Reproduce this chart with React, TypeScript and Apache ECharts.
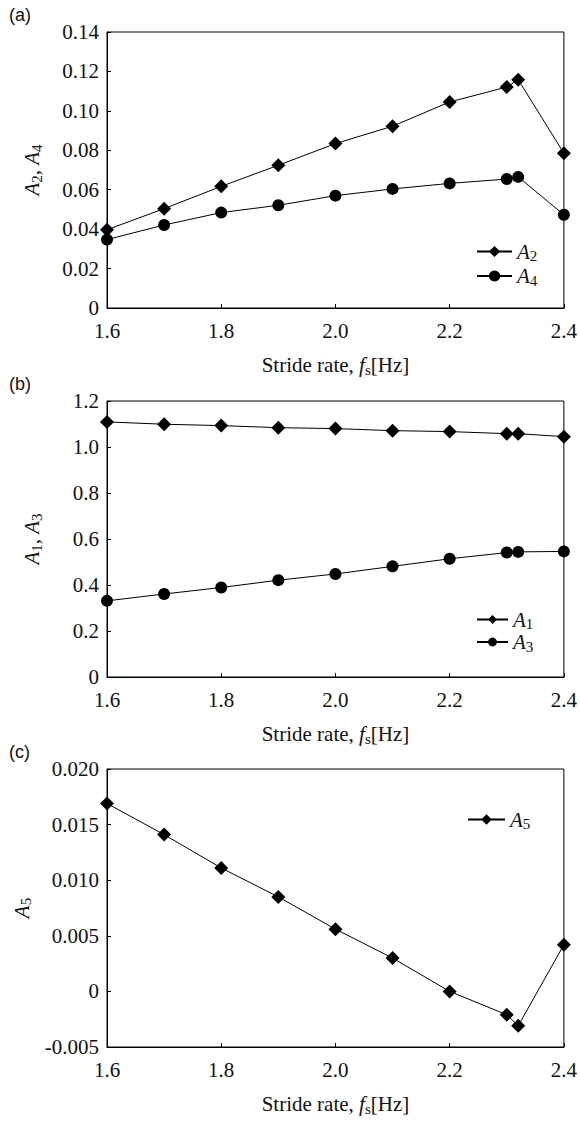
import React, { useEffect, useRef } from "react";
import * as echarts from "echarts";

const strideRates = [1.6, 1.7, 1.8, 1.9, 2.0, 2.1, 2.2, 2.3, 2.32, 2.4];
const a2Values = [0.0397, 0.0504, 0.0617, 0.0724, 0.0834, 0.0922, 0.1045, 0.1121, 0.1158, 0.0785];
const a4Values = [0.0347, 0.0421, 0.0484, 0.0521, 0.057, 0.0604, 0.0632, 0.0654, 0.0665, 0.0473];
const a1Values = [1.109, 1.099, 1.093, 1.084, 1.08, 1.071, 1.067, 1.058, 1.058, 1.045];
const a3Values = [0.331, 0.361, 0.389, 0.421, 0.448, 0.481, 0.514, 0.541, 0.544, 0.546];
const a5Values = [0.0169, 0.0141, 0.0111, 0.0085, 0.0056, 0.003, 0.0, -0.0021, -0.0031, 0.0042];

const panelLabels = ["(a)", "(b)", "(c)"];
const xAxisTitle = "{n|Stride rate, }{i|f}{s|s}{n|[Hz]}";
const yAxisTitles = [
  "{i|A}{s|2}{n|, }{i|A}{s|4}",
  "{i|A}{s|1}{n|, }{i|A}{s|3}",
  "{i|A}{s|5}",
];

const SERIF = "Liberation Serif";
const FS = 21;

const rich = {
  n: { fontFamily: SERIF, fontSize: FS, lineHeight: 24, color: "#111" },
  i: { fontFamily: SERIF, fontSize: FS, fontStyle: "italic", lineHeight: 24, color: "#111" },
  s: { fontFamily: SERIF, fontSize: 15, lineHeight: 14, verticalAlign: "bottom", color: "#111" },
};

function pairs(ys: number[]) {
  return strideRates.map((x, i) => [x, ys[i]]);
}

export default function App() {
  const ref = useRef<HTMLDivElement>(null);
  useEffect(() => {
    if (!ref.current) return;
    const chart = echarts.init(ref.current, null, { renderer: "svg" });
    const grids = [
      { left: 107, top: 32, width: 459, height: 276 },
      { left: 107, top: 401, width: 459, height: 276 },
      { left: 107, top: 769, width: 459, height: 278 },
    ];
    const yCfg = [
      { min: 0, max: 0.14, interval: 0.02, fmt: (v: number) => (Math.abs(v) < 1e-9 ? "0" : v.toFixed(2)) },
      { min: 0, max: 1.2, interval: 0.2, fmt: (v: number) => (Math.abs(v) < 1e-9 ? "0" : v.toFixed(1)) },
      { min: -0.005, max: 0.02, interval: 0.005, fmt: (v: number) => (Math.abs(v) < 1e-9 ? "0" : v.toFixed(3)) },
    ];
    const axisCommon = {
      axisLine: { show: true, onZero: false, lineStyle: { color: "#000", width: 1 } },
      axisTick: { show: true, inside: true, length: 4, lineStyle: { color: "#000" } },
      splitLine: { show: false },
      axisLabel: { fontFamily: SERIF, fontSize: FS, color: "#111", margin: 8, showMinLabel: true, showMaxLabel: true },
    };
    const xAxes = grids.map((_, k) => ({
      type: "value",
      gridIndex: k,
      min: 1.6,
      max: 2.4,
      interval: 0.2,
      ...axisCommon,
      axisLabel: { ...axisCommon.axisLabel, margin: 12, formatter: (v: number) => v.toFixed(1) },
      name: xAxisTitle,
      nameLocation: "middle",
      nameGap: 45,
      nameTextStyle: { rich },
    }));
    const yAxes = grids.map((_, k) => ({
      type: "value",
      gridIndex: k,
      min: yCfg[k].min,
      max: yCfg[k].max,
      interval: yCfg[k].interval,
      ...axisCommon,
      axisLabel: { ...axisCommon.axisLabel, formatter: yCfg[k].fmt },
      name: yAxisTitles[k],
      nameLocation: "middle",
      nameGap: 63,
      nameTextStyle: { rich },
    }));
    const mk = (name: string, ys: number[], k: number, symbol: string, size: number) => ({
      type: "line",
      name,
      xAxisIndex: k,
      yAxisIndex: k,
      data: pairs(ys),
      symbol,
      symbolSize: size,
      showAllSymbol: true,
      lineStyle: { color: "#000", width: 1 },
      itemStyle: { color: "#000" },
      emphasis: { disabled: true },
    });
    const legendFmt = (name: string) => `{i|A}{s|${name.slice(1)}}`;
    const legendBase = {
      orient: "vertical",
      padding: 0,
      formatter: legendFmt,
      textStyle: { rich },
      selectedMode: false,
    };
    chart.setOption({
      animation: false,
      backgroundColor: "#fff",
      grid: grids.map((g) => ({ ...g, show: true, borderColor: "#000", borderWidth: 1, backgroundColor: "transparent" })),
      xAxis: xAxes,
      yAxis: yAxes,
      legend: [
        { ...legendBase, data: ["A2", "A4"], left: 476, top: 241, itemWidth: 35, itemHeight: 14, itemGap: 2 },
        { ...legendBase, data: ["A1", "A3"], left: 476, top: 609, itemWidth: 31, itemHeight: 11, itemGap: 0 },
        { ...legendBase, data: ["A5"], left: 467, top: 809, itemWidth: 37, itemHeight: 13, itemGap: 0 },
      ],
      series: [
        mk("A2", a2Values, 0, "diamond", 14),
        mk("A4", a4Values, 0, "circle", 12),
        mk("A1", a1Values, 1, "diamond", 14),
        mk("A3", a3Values, 1, "circle", 12),
        mk("A5", a5Values, 2, "diamond", 14),
      ],
      graphic: panelLabels.map((t, k) => ({
        type: "text",
        left: 9,
        top: [6, 375, 743][k],
        style: { text: t, fontFamily: "Liberation Sans", fontSize: 18, fill: "#111" },
      })),
    });
    return () => chart.dispose();
  }, []);
  return <div ref={ref} style={{ position: "fixed", left: 0, top: 0, width: 580, height: 1122, background: "#fff" }} />;
}
